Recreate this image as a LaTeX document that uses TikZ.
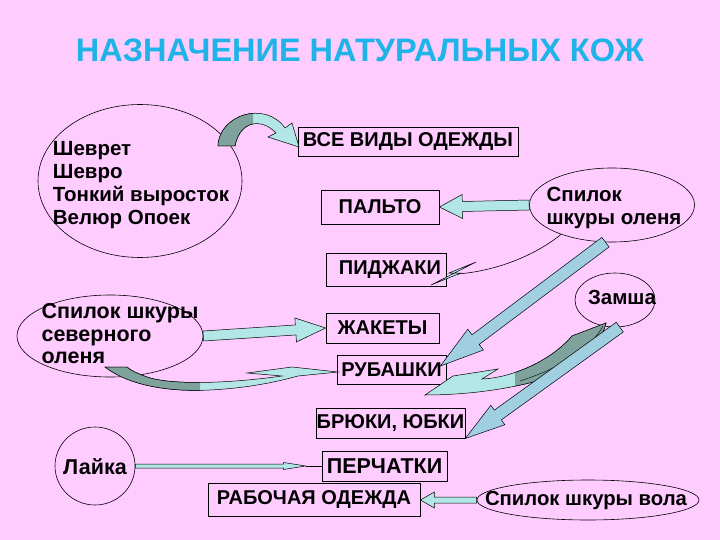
\documentclass[tikz,border=0pt]{standalone}
\usepackage{fontspec}
\setmainfont{Liberation Sans}
\usepackage{tikz}
\usetikzlibrary{calc,shapes.geometric}
\definecolor{bg}{HTML}{FFCCFF}
\definecolor{titlec}{HTML}{1FB4E8}
\definecolor{lcyan}{HTML}{B3E6E6}
\definecolor{sky}{HTML}{9FCFE0}
\definecolor{dteal}{HTML}{7FA39C}
\newcommand{\blockarrow}[6][]{%
  \coordinate (ba-h) at ($(#3)!#6!(#2)$);
  \filldraw[#1] ($(#2)!#4!90:(#3)$) -- ($(ba-h)!#4!90:(#3)$) -- ($(ba-h)!#5!90:(#3)$) -- (#3)
    -- ($(ba-h)!#5!-90:(#3)$) -- ($(ba-h)!#4!-90:(#3)$) -- ($(#2)!#4!-90:(#3)$) -- cycle;}

\begin{document}
\begin{tikzpicture}[x=1pt,y=-1pt,
  rbox/.style={draw,line width=0.8pt,inner sep=0pt,font=\bfseries\fontsize{20}{20}\selectfont},
  oval/.style={draw,ellipse,line width=0.6pt,inner sep=0pt},
  txt/.style={font=\bfseries\fontsize{20.5}{23}\selectfont,align=left,inner sep=0pt},
  flat/.style={fill=lcyan,draw=black,line width=0.5pt},
  skyarr/.style={fill=sky,draw=black,line width=0.5pt},
  dark/.style={fill=dteal,draw=black,line width=0.5pt}]
\fill[bg] (0,0) rectangle (720,540);
\useasboundingbox (0,0) rectangle (720,540);

\node[font=\bfseries\fontsize{32.5}{32.5}\selectfont,text=titlec] (title) at (360,50) {НАЗНАЧЕНИЕ НАТУРАЛЬНЫХ КОЖ};

\node[oval,minimum width=204,minimum height=153] (kozha) at (140,181) {};
\node[txt] (kozhat) at (141,185) {Шеврет\\Шевро\\Тонкий выросток\\Велюр Опоек};
\node[oval,minimum width=165,minimum height=74] (ol) at (612,205) {};
\node[txt] (olt) at (614,208) {Спилок\\шкуры оленя};
\node[oval,minimum width=186,minimum height=82] (sev) at (110,336) {};
\node[txt,font=\bfseries\fontsize{21.5}{22.5}\selectfont] (sevt) at (120,334) {Спилок шкуры\\северного\\оленя};
\node[oval,minimum width=80,minimum height=54] (zam) at (615,300) {};
\node[txt] (zamt) at (622,297) {Замша};
\node[oval,minimum width=80,minimum height=78] (laj) at (95,466) {};
\node[txt,font=\bfseries\fontsize{21.5}{22}\selectfont] (lajt) at (95,467) {Лайка};
\node[oval,minimum width=222,minimum height=40] (vol) at (588,500) {};
\node[txt,font=\bfseries\fontsize{20.3}{22}\selectfont] (volt) at (586,501) {Спилок шкуры вола};

\node[rbox,minimum width=220,minimum height=29] (vse) at (408,142) {ВСЕ ВИДЫ ОДЕЖДЫ};
\node[rbox,minimum width=118,minimum height=34] (palto) at (380,207) {ПАЛЬТО};
\node[rbox,minimum width=120,minimum height=33] (pidzh) at (386,270) {\hspace{8pt}ПИДЖАКИ};
\node[rbox,minimum width=113,minimum height=30] (zhak) at (382.5,328) {ЖАКЕТЫ};
\node[rbox,minimum width=109,minimum height=29] (rub) at (391.5,370) {РУБАШКИ};
\node[rbox,minimum width=149,minimum height=30] (bryuki) at (390.5,423) {БРЮКИ, ЮБКИ};
\node[rbox,minimum width=125,minimum height=30,font=\bfseries\fontsize{21.5}{21.5}\selectfont] (perch) at (384.5,466) {ПЕРЧАТКИ};
\node[rbox,minimum width=212,minimum height=33] (rab) at (314,500) {РАБОЧАЯ ОДЕЖДА};

\fill[flat] (218,146) .. controls (219,115) and (265,100) .. (285,128) -- (292,123) -- (299,147) -- (268,137) -- (276,133) .. controls (262,118) and (240,120) .. (235,146) -- cycle;
\begin{scope}
\clip (200,100) rectangle (253,150);
\fill[dark] (218,146) .. controls (219,115) and (265,100) .. (285,128) -- (292,123) -- (299,147) -- (268,137) -- (276,133) .. controls (262,118) and (240,120) .. (235,146) -- cycle;
\end{scope}

\blockarrow[flat]{ol.west}{palto.east}{5pt}{12pt}{23pt}

\draw[line width=0.6pt] (ol.210) .. controls (542,250) and (505,270) .. (458,274);
\filldraw[flat] (476,262) -- (431,285) -- (461,273) -- (449,273) -- cycle;

\coordinate (rubtip) at ($(rub.east)+(-6,-4)$);
\blockarrow[skyarr]{ol.260}{rubtip}{6pt}{13pt}{44pt}

\blockarrow[flat]{sev.east}{zhak.west}{5pt}{12pt}{30pt}

\fill[flat] (105,367) .. controls (130,386) and (170,392) .. (210,390) .. controls (250,388) and (280,381) .. (298,376) -- (338,372) -- (292,367) -- (247,373) -- (282,376) .. controls (240,382) and (180,386) .. (150,378) .. controls (138,374) and (130,370) .. (127,367) -- cycle;
\begin{scope}
\clip (90,360) rectangle (200,400);
\fill[dark] (105,367) .. controls (130,386) and (170,392) .. (210,390) .. controls (250,388) and (280,381) .. (298,376) -- (338,372) -- (292,367) -- (247,373) -- (282,376) .. controls (240,382) and (180,386) .. (150,378) .. controls (138,374) and (130,370) .. (127,367) -- cycle;
\end{scope}

\fill[flat] (572,336) -- (606,323) .. controls (600,350) and (565,375) .. (525,384) .. controls (495,391) and (460,395) .. (425,395) -- (453,376) -- (498,369) -- (482,379) .. controls (510,378) and (550,362) .. (572,336) -- cycle;
\begin{scope}
\clip (515,310) rectangle (620,400);
\fill[dark] (572,336) -- (606,323) .. controls (600,350) and (565,375) .. (525,384) .. controls (495,391) and (460,395) .. (425,395) -- (453,376) -- (498,369) -- (482,379) .. controls (510,378) and (550,362) .. (572,336) -- cycle;
\end{scope}
\draw[line width=0.4pt] (520,381) .. controls (560,368) and (590,350) .. (603,326);

\blockarrow[skyarr]{zam.280}{bryuki.south east}{6pt}{12pt}{40pt}

\coordinate (lt) at ($(perch.west)+(-16,0)$);
\blockarrow[flat]{laj.east}{lt}{2pt}{3.5pt}{22pt}
\draw[line width=0.6pt] (lt) -- (perch.west);

\blockarrow[flat]{vol.west}{rab.east}{3pt}{8pt}{14pt}
\end{tikzpicture}
\end{document}
